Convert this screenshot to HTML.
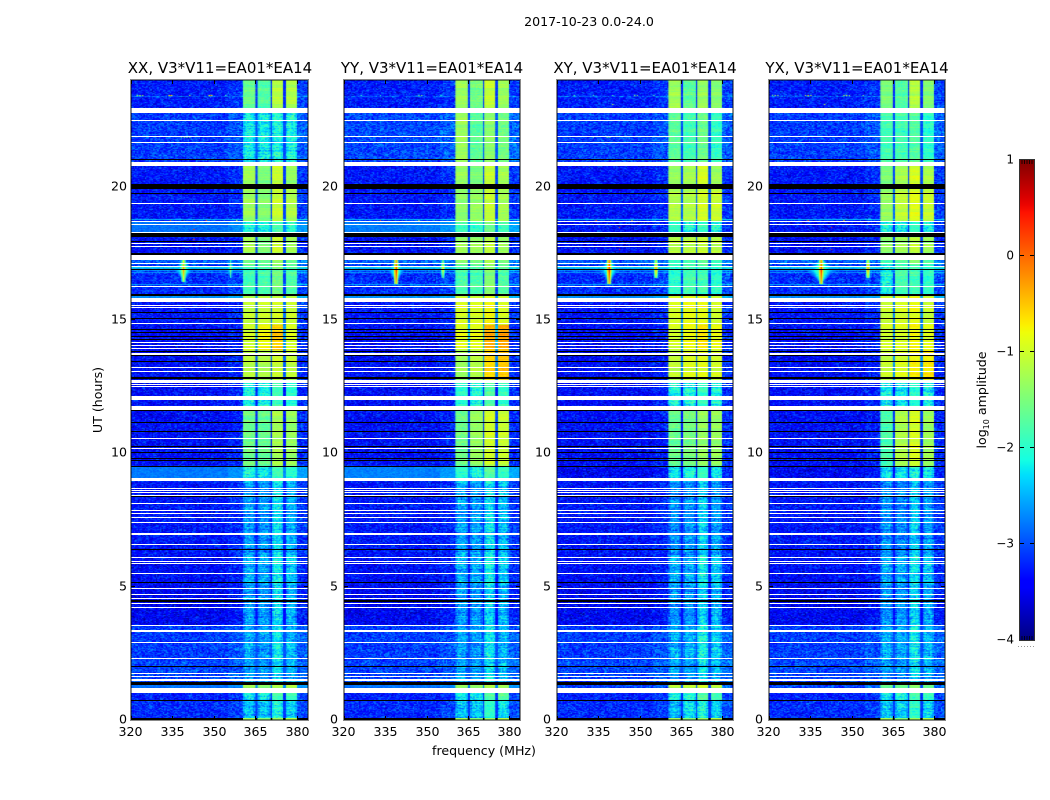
<!DOCTYPE html>
<html lang="en">
<head>
<meta charset="utf-8">
<title>2017-10-23 0.0-24.0</title>
<style>
html,body{margin:0;padding:0;background:#fff;width:1050px;height:800px;overflow:hidden}
#figure{position:relative;width:1050px;height:800px;font-family:"DejaVu Sans","Liberation Sans",sans-serif}
canvas{position:absolute;top:80px;height:640px;display:block}
svg{position:absolute;left:0;top:0}
text{font-family:"DejaVu Sans","Liberation Sans",sans-serif;fill:#000}
</style>
</head>
<body>
<div id="figure">
<canvas id="heat0"></canvas>
<canvas id="heat1"></canvas>
<canvas id="heat2"></canvas>
<canvas id="heat3"></canvas>
<svg id="overlay" width="1050" height="800" viewBox="0 0 1050 800">
<defs><linearGradient id="jetGrad" x1="0" y1="1" x2="0" y2="0"></linearGradient></defs>
<text x="589" y="26" text-anchor="middle" font-size="12.6">2017-10-23 0.0-24.0</text>
<text x="220" y="73" text-anchor="middle" font-size="15">XX, V3*V11=EA01*EA14</text>
<text x="432" y="73" text-anchor="middle" font-size="15">YY, V3*V11=EA01*EA14</text>
<text x="645" y="73" text-anchor="middle" font-size="15">XY, V3*V11=EA01*EA14</text>
<text x="857" y="73" text-anchor="middle" font-size="15">YX, V3*V11=EA01*EA14</text>
<text x="484" y="755" text-anchor="middle" font-size="12.6">frequency (MHz)</text>
<text transform="translate(102,400) rotate(-90)" text-anchor="middle" font-size="12.6">UT (hours)</text>
<text transform="translate(986,400) rotate(-90)" text-anchor="middle" font-size="12.6">log<tspan font-size="8" dy="3">10</tspan><tspan dy="-3"> amplitude</tspan></text>
</svg>
</div>
<script>
/* ---- chart data ---- */
const panelNames = ['xx','yy','xy','yx'];
const freqTicks = [320,335,350,365,380];
const hourTicks = [0,5,10,15,20];
const colorbarTicks = [1,0,-1,-2,-3,-4];
const colorbarLabels = ['1','0','\u22121','\u22122','\u22123','\u22124'];
/* integration index (0..640, 135 s each) of flagged rows: [first, last) */
const whiteRows = [[607,612],[599,600],[583,584],[577,578],[554,558],[516,517],[498,499],[495,496],[487,488],[476,477],[473,474],[460,465],[456,457],[453,454],[433,434],[418,422],[414,415],[412,413],[396,397],[377,378],[374,375],[371,372],[365,367],[352,353],[348,349],[337,340],[335,336],[333,334],[320,324],[310,314],[281,282],[271,272],[239,242],[231,232],[229,230],[227,228],[224,225],[216,217],[209,210],[206,207],[202,203],[197,198],[185,187],[175,176],[162,163],[158,159],[156,157],[146,147],[131,132],[125,126],[121,122],[116,117],[112,113],[94,95],[88,90],[77,78],[61,62],[46,47],[43,44],[39,41],[27,32]];
const blackRows = [[560,561],[531,536],[526,527],[483,487],[478,479],[465,467],[450,451],[424,426],[407,408],[401,402],[390,391],[387,388],[383,384],[380,381],[368,369],[364,365],[358,359],[341,343],[309,310],[297,298],[288,289],[273,274],[267,268],[261,262],[259,260],[253,254],[223,224],[170,171],[137,138],[118,120],[53,54],[35,38],[19,20],[0,2]];
/* in-band amplitude that survives in the lowest (otherwise zero) rows */
const edgeRowLevel = [-1.25,-1.45,-1.3,-1.15];
/* time segments: first integration of each */
const segmentStart = [0,20,32,38,60,95,135,165,239,254,310,340,370,395,424,455,467,483,499,536,558,607];
/* log10 amplitude of the out-of-band floor per segment */
const floorXX = [-3.2,-3.25,-2.8,-3.05,-3.1,-3.45,-3.38,-3.32,-2.78,-3.38,-3.38,-3.38,-3.38,-3.32,-3.2,-2.92,-3.38,-2.82,-3.32,-3.32,-3.1,-3.28];
const floorYY = [-3.2,-3.25,-2.8,-3.05,-3.1,-3.45,-3.38,-3.32,-2.74,-3.38,-3.38,-3.38,-3.38,-3.32,-3.2,-2.92,-3.38,-2.76,-3.32,-3.32,-3.05,-3.28];
const floorXY = [-3.2,-3.25,-3.05,-3.05,-3.1,-3.45,-3.38,-3.32,-3.45,-3.38,-3.38,-3.38,-3.38,-3.32,-3.2,-2.92,-3.38,-3.32,-3.32,-3.32,-3.1,-3.28];
const floorYX = [-3.2,-3.25,-3.05,-3.05,-3.1,-3.45,-3.38,-3.32,-3.45,-3.38,-3.38,-3.38,-3.38,-3.32,-3.2,-2.92,-3.38,-3.32,-3.32,-3.32,-3.1,-3.28];
/* in-band log10 amplitude per segment, for the four sub-bands */
const bandXX = [[-2.45,-2.4,-2.05,-2.3],[-2.2,-2.15,-1.8,-1.85],[-1.2,-1.35,-1.15,-1.1],[-2.55,-2.6,-2.25,-2.45],[-2.55,-2.6,-2.2,-2.45],[-2.6,-2.65,-2.3,-2.5],[-2.5,-2.55,-2.15,-2.35],[-2.6,-2.65,-2.25,-2.5],[-2.05,-2.15,-1.85,-2.0],[-1.6,-1.65,-1.25,-1.35],[-2.05,-2.1,-1.85,-2.0],[-1.15,-1.2,-1.05,-1.1],[-1.0,-0.8,-0.55,-0.95],[-1.1,-1.05,-1.0,-1.05],[-1.85,-1.8,-1.55,-1.75],[-1.55,-1.6,-1.3,-1.6],[-1.25,-1.5,-1.05,-1.3],[-2.05,-2.1,-1.85,-2.05],[-1.3,-1.45,-1.05,-1.2],[-1.25,-1.5,-1.05,-1.35],[-2.15,-2.2,-2.05,-2.1],[-1.6,-1.75,-1.15,-1.2]];
const bandYY = [[-2.4,-2.4,-2.0,-2.25],[-2.15,-2.1,-1.75,-1.65],[-1.25,-1.3,-1.1,-1.2],[-2.55,-2.6,-2.25,-2.45],[-2.55,-2.6,-2.15,-2.45],[-2.6,-2.65,-2.3,-2.5],[-2.5,-2.55,-2.15,-2.35],[-2.55,-2.6,-2.25,-2.45],[-2.0,-2.1,-1.75,-1.95],[-1.6,-1.35,-1.0,-1.05],[-2.0,-2.05,-1.75,-1.95],[-1.3,-1.15,-0.6,-0.5],[-0.9,-0.9,-0.4,-0.35],[-0.95,-0.95,-0.8,-0.95],[-1.8,-1.8,-1.45,-1.75],[-1.4,-1.55,-1.2,-1.5],[-1.3,-1.3,-1.1,-1.3],[-1.9,-2.0,-1.6,-1.9],[-1.4,-1.35,-1.05,-1.25],[-1.3,-1.5,-1.05,-1.25],[-1.3,-1.7,-1.4,-1.55],[-1.3,-1.55,-1.05,-1.3]];
const bandXY = [[-2.45,-2.25,-2.05,-2.3],[-2.2,-2.05,-1.8,-1.9],[-1.2,-1.15,-1.05,-1.2],[-2.55,-2.6,-2.25,-2.45],[-2.5,-2.5,-2.1,-2.35],[-2.65,-2.65,-2.3,-2.5],[-2.5,-2.55,-2.15,-2.35],[-2.65,-2.65,-2.35,-2.6],[-2.2,-2.1,-1.95,-2.15],[-1.65,-1.55,-1.35,-1.35],[-2.1,-2.1,-1.95,-2.05],[-1.1,-0.95,-0.9,-1.0],[-1.0,-0.85,-0.7,-0.85],[-0.95,-0.85,-0.85,-1.0],[-2.0,-1.85,-1.85,-2.0],[-1.9,-1.8,-1.6,-1.85],[-1.15,-1.15,-1.05,-1.15],[-2.0,-2.05,-1.95,-2.05],[-1.2,-1.2,-1.0,-1.05],[-1.35,-1.25,-0.95,-1.3],[-1.7,-1.85,-1.6,-1.95],[-1.3,-1.7,-1.35,-1.45]];
const bandYX = [[-2.4,-2.4,-2.0,-2.3],[-2.2,-2.1,-1.8,-1.9],[-1.5,-1.5,-1.3,-1.5],[-2.6,-2.65,-2.25,-2.5],[-2.5,-2.55,-2.15,-2.45],[-2.65,-2.65,-2.3,-2.55],[-2.55,-2.55,-2.2,-2.4],[-2.65,-2.7,-2.35,-2.6],[-2.25,-2.25,-2.05,-2.2],[-1.8,-1.2,-0.95,-1.3],[-2.15,-2.2,-2.0,-2.1],[-1.05,-0.95,-0.75,-0.7],[-1.0,-0.95,-0.8,-0.9],[-1.05,-0.95,-0.85,-1.05],[-2.1,-1.8,-1.85,-1.95],[-1.9,-1.8,-1.5,-1.8],[-1.4,-1.3,-1.1,-1.3],[-2.1,-2.15,-2.0,-2.1],[-1.35,-1.1,-0.9,-1.05],[-1.5,-1.25,-0.95,-1.2],[-1.85,-1.85,-1.75,-2.0],[-1.5,-1.75,-1.15,-1.45]];
/* sub-band edges in MHz */
const bandLow = [360.5,365.7,371.1,375.9];
const bandHigh = [365,370.5,375,380];
/* bright full-width rows: [integration, log10 amplitude] */
const brightRows = [[422,-2.6],[423,-2.6],[452,-2.2],[451,-2.5],[435,-2.5],[500,-2.4],[447,-2.6],[449,-2.6],[623,-2.9]];
/* RFI spikes per panel: [MHz, first integration, last integration, peak, glow half width MHz] */
const spikesXX = [[339,438,462,-0.2,3.5],[356,442,460,-1.2,0]];
const spikesYY = [[339,436,462,0.3,3],[356,442,460,-0.8,0]];
const spikesXY = [[339,436,464,0.4,3.5],[356,442,460,-0.4,0]];
const spikesYX = [[339,436,462,0.3,5.5],[356,442,460,-0.3,0]];
/* isolated RFI cells: [MHz, integration, log10 amplitude] */
const rfiXX = [[322,624,-1.2],[323,624,-1.1],[324,624,-1.3],[334,624,0.2],[333.5,624,-0.8],[334.5,624,-0.8],[341,624,-1.3],[348.5,624,0.4],[348,624,-0.9],[349,624,-0.9],[354,624,-1.8],[334,499,0.3],[347,499,0.2],[342.5,490,0.3],[342.5,480,0.3],[358,499,-1],[338,582,-1.6],[339,582,-1.6],[340,582,-1.6],[341,582,-1.6]];
const rfiYY = [[326,624,-2],[333,624,-2],[347,624,-1.6],[348,624,-1.4],[355,624,-2],[333,499,0.2],[347,499,-1],[338,364,-1.2],[342,352,-1.8],[343,352,-1.5],[347,352,-1],[348,352,-1]];
const rfiXY = [[326,624,-1.8],[333,624,-1.8],[340,624,-1.8],[348,624,-1.3],[349,624,-1.3],[355,624,-1.8],[334,499,0.2],[342.5,492,0.3],[342.5,484,0.5],[342.5,478,0.5],[342.5,470,0.4],[347,499,-0.4],[340,615,-1],[333,582,-1.6],[338,582,-1.6],[339,582,-1.6]];
const rfiYX = [[321,624,-1.4],[322,624,-1.2],[323,624,-1.4],[334,624,-0.5],[333,624,-1],[335,624,-1],[348,624,-0.8],[347,624,-1.2],[349,624,-1.2],[354,624,-1.6],[334,499,0.3],[347,499,-0.5],[342.5,492,0.3],[342.5,484,0.5],[342.5,478,0.5],[342.5,470,0.4],[340,615,-1]];
/* hand-written texture tables for the per-cell receiver noise */
const grainTable = [0.31,-0.72,0.12,0.88,-0.45,-0.09,0.64,-0.93,0.27,0.51,-0.38,-0.81,0.73,0.05,-0.22,0.95,-0.6,0.18,-0.14,0.42,-0.99,0.36,0.79,-0.53,0.08,-0.31,0.67,-0.77,0.22,0.59,-0.04,-0.66,0.91,-0.18,0.47,-0.85,0.14,0.7,-0.41,-0.27,0.84,-0.57,0.02,0.39,-0.9,0.55,-0.12,0.25,-0.7,0.98,-0.35,0.11,0.62,-0.49,-0.83,0.33,0.76,-0.24,-0.63,0.44,-0.07];
const streakTable = [0.4,-0.6,0.9,-0.2,0.1,-0.9,0.6,0.2,-0.4,0.8,-0.7,0,0.5,-0.3,-0.8,0.7,0.3,-0.5,1,-0.1,-0.6,0.2,0.6,-0.9,0.4,-0.2,0.1,0.8,-0.5,-0.1,0.7,-0.8,0.3,-0.3,0.5,0,-0.7];

/* ---- axes ---- */
const panelLeft = [131,344,557,769];
const panelRight = [308,520,733,945];
const labelGap = [4,6,6,6];
const freqMin = 320, freqMax = 384, channelWidth = 0.25, grainWidth = 0.5, integrations = 640, integrationsPerHour = 640/24;
const cbarLeft = 1020, cbarRight = 1034, cbarTop = 160, cbarBottom = 640, cbarMin = -4, cbarMax = 1;
const floors = [floorXX,floorYY,floorXY,floorYX];
const bands = [bandXX,bandYY,bandXY,bandYX];
const spikes = [spikesXX,spikesYY,spikesXY,spikesYX];
const rfi = [rfiXX,rfiYY,rfiXY,rfiYX];
function xScale(p,f){return panelLeft[p]+(f-freqMin)/(freqMax-freqMin)*(panelRight[p]-panelLeft[p]);}
function yScale(i){return 720-i*(640/integrations);}
function hourIndex(h){return h*integrationsPerHour;}
function cbarY(v){return cbarBottom-(v-cbarMin)/(cbarMax-cbarMin)*(cbarBottom-cbarTop);}
function ramp(t,a,b){return Math.max(0,Math.min(1,(t-a)/(b-a)));}
function jet(t){
  t=Math.max(0,Math.min(1,t));
  const r=t<0.89?ramp(t,0.35,0.66):1-0.5*ramp(t,0.89,1);
  const g=t<0.64?ramp(t,0.125,0.375):1-ramp(t,0.64,0.91);
  const b=t<0.34?0.5+0.5*ramp(t,0,0.11):1-ramp(t,0.34,0.65);
  return [Math.round(r*255),Math.round(g*255),Math.round(b*255)];
}
function jetOf(v){return jet((v-cbarMin)/(cbarMax-cbarMin));}
function segmentOf(row){let s=0;for(let i=0;i<segmentStart.length;i++){if(row>=segmentStart[i])s=i;}return s;}
function cellIndex(a,b,c){
  let h=(Math.imul(a+1,374761393)+Math.imul(b+1,668265263)+Math.imul(c+1,1274126177))|0;
  h=Math.imul(h^(h>>>13),1103515245);
  return (h^(h>>>16))>>>0;
}
function cellValue(p,ch,row,seg,brightMap,cellMap){
  const f=freqMin+(ch+0.5)*channelWidth;
  const gc=Math.floor((f-freqMin)/grainWidth);
  const levels=bands[p][seg];
  let floor=floors[p][seg];
  if(brightMap[row]!==undefined)floor=Math.max(floor,brightMap[row]);
  const hs=cellIndex(gc,row,p);
  const g1=grainTable[hs%61];
  const g2=grainTable[(hs>>>9)%61];
  const st=streakTable[(row+p*3)%37];
  const slow=streakTable[(Math.floor(row/4)+p*5)%37];
  const floorNoise=floor>-2.9?0.1:0.3;
  let v=floor,inBand=false;
  for(let k=0;k<4;k++){
    if(f>=bandLow[k]&&f<bandHigh[k]){
      const l=levels[k];
      const amp=l<-2?0.27:(l<-1.5?0.13:0.06);
      const edge=Math.min(f-bandLow[k],bandHigh[k]-f);
      const taper=(l<-2&&edge<0.7)?0.22:0;
      v=l-taper+(g1+g2)*amp+st*(l<-2?0.16:0.1)+slow*0.1;
      inBand=true;
    }
  }
  if(!inBand){
    const mean=(levels[0]+levels[1]+levels[2]+levels[3])/4;
    if(f>=bandLow[0]&&f<bandHigh[3]){
      v=Math.max(floor+0.1,mean-1.8)+g1*0.12;
    }else{
      if(f>=bandHigh[3])floor+=0.2;
      if(f>=355&&f<bandLow[0])floor+=0.12;
      v=floor+(g1+g2)*floorNoise;
    }
  }
  for(const sp of spikes[p]){
    const [sf,a,b,peak,hw]=sp;
    if(row>=a&&row<=b){
      const mid=(a+b)/2,half=(b-a)/2;
      const dy=Math.abs(row-mid)/half;
      const df=Math.abs(f-sf);
      if(df<0.3)v=Math.max(v,peak-dy*0.9);
      else if(df<0.7)v=Math.max(v,peak-0.9-dy*1.0);
      if(hw>0){
        const w=hw*(1-dy);
        if(df<w)v=Math.max(v,-1.5-(df/w)*1.6+g1*0.12);
      }
    }
  }
  const key=gc+'_'+row;
  if(cellMap[key]!==undefined)v=cellMap[key];
  return v;
}
function drawHeatmap(p){
  const cv=document.getElementById('heat'+p);
  const w=panelRight[p]-panelLeft[p];
  const chans=Math.round((freqMax-freqMin)/channelWidth);
  cv.width=w;cv.height=integrations;
  cv.style.left=panelLeft[p]+'px';cv.style.width=w+'px';
  const off=document.createElement('canvas');
  off.width=chans;off.height=integrations;
  const oc=off.getContext('2d');
  const img=oc.createImageData(chans,integrations);
  const brightMap={};
  brightRows.forEach(function(r){brightMap[r[0]]=r[1];});
  const cellMap={};
  rfi[p].forEach(function(c){cellMap[Math.floor((c[0]-freqMin)/grainWidth)+'_'+c[1]]=c[2];});
  for(let row=0;row<integrations;row++){
    const seg=segmentOf(row);
    const py=integrations-1-row;
    for(let ch=0;ch<chans;ch++){
      const v=cellValue(p,ch,row,seg,brightMap,cellMap);
      const c=jetOf(v);
      const o=(py*chans+ch)*4;
      img.data[o]=c[0];img.data[o+1]=c[1];img.data[o+2]=c[2];img.data[o+3]=255;
    }
  }
  oc.putImageData(img,0,0);
  const ctx=cv.getContext('2d');
  ctx.imageSmoothingEnabled=true;
  ctx.drawImage(off,0,0,w,integrations);
}
const NS='http://www.w3.org/2000/svg';
const overlay=document.getElementById('overlay');
function node(tag,attrs){
  const el=document.createElementNS(NS,tag);
  for(const k in attrs)el.setAttribute(k,attrs[k]);
  return el;
}
function drawPanel(p){
  const L=panelLeft[p],R=panelRight[p],nm=panelNames[p];
  whiteRows.forEach(function(r){
    const y1=Math.round(yScale(r[1])),y0=Math.round(yScale(r[0]));
    const el=node('rect',{x:L,y:y1,width:R-L,height:y0-y1,fill:'#fff'});
    
    
    overlay.appendChild(el);
  });
  blackRows.forEach(function(r){
    const y1=Math.round(yScale(r[1])),y0=Math.round(yScale(r[0]));
    const el=node('rect',{x:L,y:y1,width:R-L,height:y0-y1,fill:'#000'});
    
    
    overlay.appendChild(el);
  });
  edgeRowLevel.forEach(function(v,k){
    const x0=xScale(p,bandLow[k]),x1=xScale(p,bandHigh[k]);
    const el=node('rect',{x:x0,y:yScale(2),width:x1-x0,height:2,fill:'rgb('+jetOf(v).join(',')+')'});
    
    
    overlay.appendChild(el);
  });
  const top=80,bot=720;
  const frame=node('rect',{x:L-0.5,y:top-0.5,width:R-L+1,height:bot-top+1,fill:'none',stroke:'#888','stroke-width':1});
  
  
  overlay.appendChild(frame);
  const inner=node('rect',{x:L+0.5,y:top+0.5,width:R-L-1,height:bot-top-1,fill:'none',stroke:'#000','stroke-width':1,'stroke-opacity':0.45});
  
  
  overlay.appendChild(inner);
  freqTicks.forEach(function(f){
    const x=Math.round(xScale(p,f))+0.5;
    const t1=node('line',{x1:x,x2:x,y1:bot,y2:bot-4,stroke:'#000','stroke-width':1});
    
    
    overlay.appendChild(t1);
    const t2=node('line',{x1:x,x2:x,y1:top,y2:top+4,stroke:'#000','stroke-width':1});
    
    
    overlay.appendChild(t2);
    const lb=node('text',{x:f===320?x-1:x,y:736,'text-anchor':'middle','font-size':12.6});
    lb.textContent=String(f);
    
    
    overlay.appendChild(lb);
  });
  hourTicks.forEach(function(h){
    const y=Math.round(yScale(hourIndex(h)))-0.5;
    const t1=node('line',{x1:L,x2:L+4,y1:y,y2:y,stroke:'#000','stroke-width':1});
    
    
    overlay.appendChild(t1);
    const t2=node('line',{x1:R,x2:R-4,y1:y,y2:y,stroke:'#000','stroke-width':1});
    
    
    overlay.appendChild(t2);
    const lb=node('text',{x:L-labelGap[p],y:y+3.8,'text-anchor':'end','font-size':12.6});
    lb.textContent=String(h);
    
    
    overlay.appendChild(lb);
  });
}
function drawColorbar(){
  const grad=document.getElementById('jetGrad');
  const stopCount=64;
  for(let i=0;i<=stopCount;i++){
    const c=jet(i/stopCount);
    grad.appendChild(node('stop',{offset:(i/stopCount),'stop-color':'rgb('+c.join(',')+')'}));
  }
  const bar=node('rect',{x:cbarLeft,y:cbarTop,width:cbarRight-cbarLeft,height:cbarBottom-cbarTop,fill:'url(#jetGrad)'});
  
  
  overlay.appendChild(bar);
  const fr=node('rect',{x:cbarLeft-0.5,y:cbarTop-0.5,width:cbarRight-cbarLeft+1,height:cbarBottom-cbarTop+1,fill:'none',stroke:'#333','stroke-width':1});
  
  
  overlay.appendChild(fr);
  colorbarTicks.forEach(function(v,i){
    const y=Math.round(cbarY(v))-0.5;
    if(v!==cbarMin&&v!==cbarMax){
      const t1=node('line',{x1:cbarLeft,x2:cbarLeft+4,y1:y,y2:y,stroke:'#000','stroke-width':1});
      
      
      overlay.appendChild(t1);
      const t2=node('line',{x1:cbarRight,x2:cbarRight-4,y1:y,y2:y,stroke:'#000','stroke-width':1});
      
      
      overlay.appendChild(t2);
    }
    const lb=node('text',{x:1014,y:y+4,'text-anchor':'end','font-size':12});
    lb.textContent=colorbarLabels[i];
    
    
    overlay.appendChild(lb);
  });
  for(let x=cbarLeft+2;x<cbarRight;x+=2.5){
    const a=node('line',{x1:x,x2:x,y1:cbarTop,y2:cbarTop+4,stroke:'#000','stroke-width':0.8});
    
    
    overlay.appendChild(a);
    const b=node('line',{x1:x,x2:x,y1:cbarBottom,y2:cbarBottom-4,stroke:'#000','stroke-width':0.8});
    
    
    overlay.appendChild(b);
  }
  const dots=node('line',{x1:1018,x2:1035,y1:646.5,y2:646.5,stroke:'#999','stroke-width':1,'stroke-dasharray':'1 2'});
  
  
  overlay.appendChild(dots);
}
for(let p=0;p<4;p++){drawHeatmap(p);drawPanel(p);}
drawColorbar();
</script>
</body>
</html>
